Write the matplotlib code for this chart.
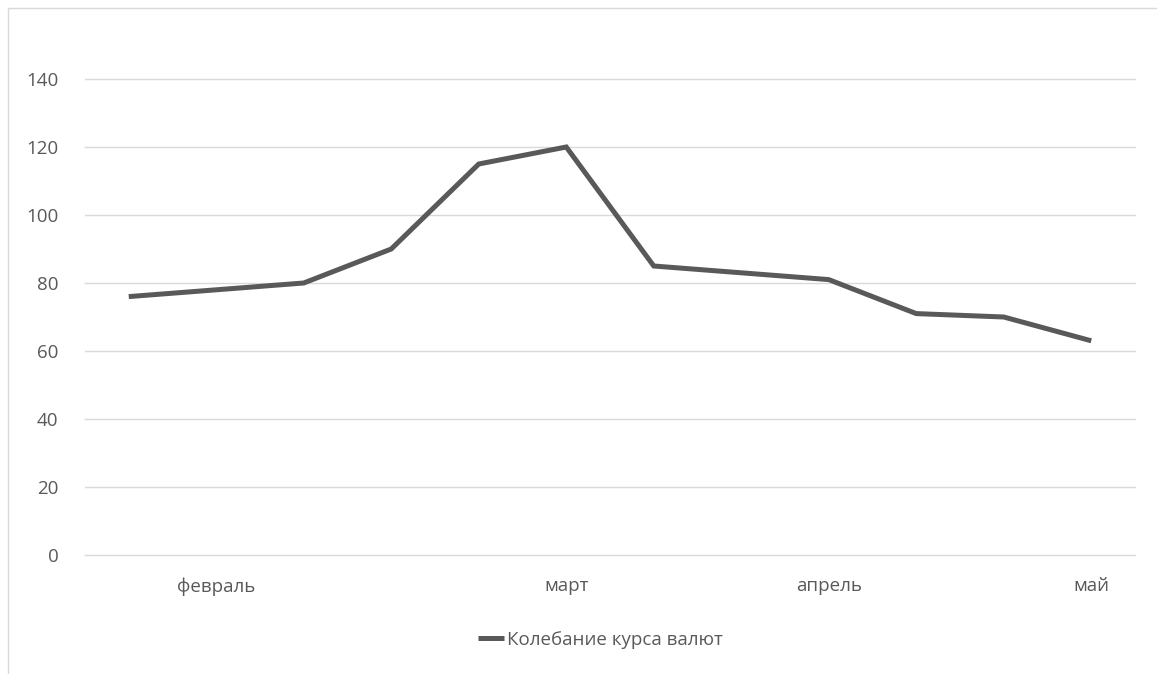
import matplotlib
matplotlib.use("Agg")
import matplotlib.pyplot as plt
from matplotlib.patches import Rectangle
import numpy as np

# ----- exchange rate values, one per category slot -----
months = ['', 'февраль', '', '', '', 'март', '', '', 'апрель', '', '', 'май']
rate = [76, 78, 80, 90, 115, 120, 85, 83, 81, 71, 70, 63]
y_ticks = [0, 20, 40, 60, 80, 100, 120, 140]
series_name = 'Колебание курса валют'

plt.rcParams['font.family'] = ['Open Sans', 'DejaVu Sans']

W, H = 1157, 674
fig = plt.figure(figsize=(W / 100, H / 100), dpi=100)

# light frame round the chart area
fig.patches.append(Rectangle((8 / W, -0.1), 1.2, 1 - 8 / H + 0.1, transform=fig.transFigure,
                             fill=False, edgecolor='#d9d9d9', linewidth=1))

ax = fig.add_axes([85 / W, 1 - 555 / H, 1050 / W, (555 - 79) / H])

x = np.arange(len(rate))
line, = ax.plot(x, rate, color='#595959', linewidth=3.6, solid_joinstyle='miter',
                solid_capstyle='butt', label=series_name)

ax.set_xlim(-0.5, len(rate) - 0.5)
ax.set_ylim(0, 140)
ax.set_yticks(y_ticks)
ax.set_xticks(x)
ax.set_xticklabels(months)
ax.yaxis.grid(True, color='#d9d9d9', linewidth=1, clip_on=False)
for g in ax.get_ygridlines():
    g.set_clip_on(False)
ax.set_axisbelow(True)
ax.tick_params(length=0, labelsize=13.5, colors='#595959')
ax.tick_params(axis='y', pad=19)
ax.tick_params(axis='x', pad=16)
for s in ax.spines.values():
    s.set_visible(False)

leg = fig.legend(handles=[line], loc='center', bbox_to_anchor=(600 / W, 1 - 640 / H),
                 frameon=False, fontsize=13.5, handlelength=1.4, handletextpad=0.15)
for t in leg.get_texts():
    t.set_color('#595959')

fig.savefig('out.png', dpi=100)
